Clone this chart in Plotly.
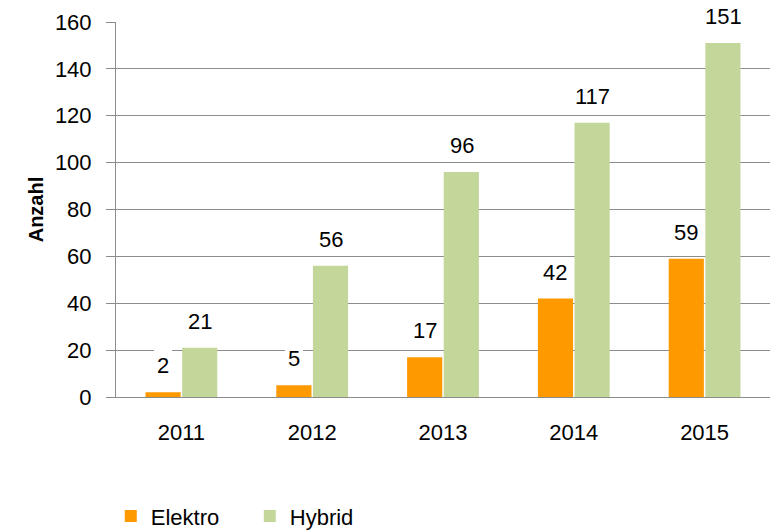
import plotly.graph_objects as go

years = ["2011", "2012", "2013", "2014", "2015"]
elektro = [2, 5, 17, 42, 59]
hybrid = [21, 56, 96, 117, 151]
y_ticks = [0, 20, 40, 60, 80, 100, 120, 140, 160]

FONT = "Liberation Sans, Arial, sans-serif"
ORANGE = "#FF9900"
GREEN = "#C4D79B"
GRID = "#8c8c8c"
FS = 22

fig = go.Figure()
fig.add_trace(go.Bar(name="Elektro", x=years, y=elektro, marker_color=ORANGE, marker_line_width=0))
fig.add_trace(go.Bar(name="Hybrid", x=years, y=hybrid, marker_color=GREEN, marker_line_width=0))

annotations = []
for series, shift in ((elektro, -18.5), (hybrid, 18.5)):
    for i, v in enumerate(series):
        annotations.append(dict(
            x=i, y=v, xref="x", yref="y", text=str(v), showarrow=False,
            xshift=shift, yshift=11, yanchor="bottom", xanchor="center",
            bgcolor="white", borderpad=3, borderwidth=0,
            font=dict(family=FONT, size=FS, color="black"),
        ))

fig.update_layout(
    width=775, height=531,
    margin=dict(l=116, r=5, t=22, b=134, autoexpand=False),
    paper_bgcolor="white", plot_bgcolor="white",
    barmode="group", bargap=0.44, bargroupgap=0.04,
    font=dict(family=FONT, size=FS, color="black"),
    annotations=annotations,
    showlegend=True,
    hovermode=False,
    legend=dict(
        orientation="h", x=-0.008, xanchor="left", xref="paper",
        y=0.028, yanchor="middle", yref="container",
        font=dict(family=FONT, size=FS, color="black"),
        entrywidth=94, entrywidthmode="pixels",
        itemclick=False,
    ),
    xaxis=dict(
        type="category", range=[-0.5, 4.5], showgrid=False, showline=True, linecolor=GRID, linewidth=1,
        ticks="", ticklabelstandoff=16,
        tickfont=dict(family=FONT, size=FS, color="black"),
    ),
    yaxis=dict(
        range=[0, 160], tickvals=y_ticks, showgrid=True, gridcolor=GRID, gridwidth=1,
        showline=True, linecolor=GRID, linewidth=1,
        ticks="outside", ticklen=9, tickcolor=GRID, ticklabelstandoff=10,
        zeroline=False,
        tickfont=dict(family=FONT, size=FS, color="black"),
        title=dict(text="<b>Anzahl</b>", font=dict(family=FONT, size=20, color="black"), standoff=5),
    ),
)

fig.write_html("out.html", config={"displayModeBar": False},
               post_script="document.body.style.margin='0';")
